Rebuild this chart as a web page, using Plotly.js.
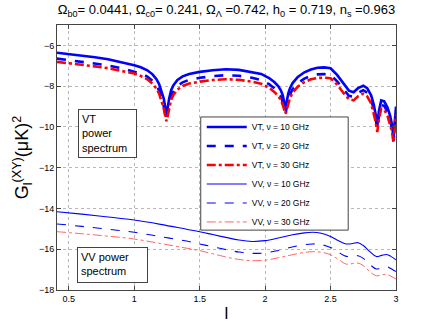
<!DOCTYPE html>
<html>
<head>
<meta charset="utf-8">
<script src="https://cdn.plot.ly/plotly-3.0.1.min.js"></script>
<style>
  html, body { margin: 0; padding: 0; background: #fff; }
  #chart { width: 438px; height: 327px; }
</style>
</head>
<body>
<div id="chart"></div>
<script>
// multipole axis (log10 l) for the VT spectra, denser around the dips
const lVT = [0.41, 0.5, 0.6, 0.7, 0.8, 0.9, 1.0, 1.05, 1.1, 1.14, 1.17, 1.19, 1.21, 1.225, 1.235, 1.242, 1.246,
    1.25, 1.257, 1.267, 1.282, 1.3, 1.33, 1.37, 1.42, 1.5, 1.6, 1.7, 1.8, 1.9, 1.97, 2.03, 2.07, 2.1, 2.12,
    2.135, 2.145, 2.152, 2.156, 2.16, 2.167, 2.177, 2.19, 2.21, 2.25, 2.3, 2.35, 2.4, 2.45, 2.5, 2.55, 2.6,
    2.64, 2.676, 2.71, 2.75, 2.78, 2.81, 2.83, 2.845, 2.853, 2.857, 2.861, 2.87, 2.887, 2.91, 2.935, 2.955,
    2.97, 2.977, 2.981, 2.985, 2.992, 3.0];

const vt10 = [-6.36, -6.42, -6.5, -6.58, -6.68, -6.82, -6.97, -7.07, -7.22, -7.42, -7.66, -7.9, -8.25, -8.6, -8.95, -9.3, -9.5,
    -9.3, -8.95, -8.6, -8.2, -7.95, -7.7, -7.52, -7.4, -7.3, -7.22, -7.17, -7.2, -7.3, -7.4, -7.6, -7.8, -8.0, -8.2,
    -8.45, -8.7, -8.95, -9.1, -8.95, -8.65, -8.35, -8.1, -7.85, -7.55, -7.32, -7.18, -7.1, -7.08, -7.12, -7.45, -7.9,
    -8.22, -8.3, -8.1, -7.98, -8.1, -8.45, -8.9, -9.4, -9.8, -10.0, -9.7, -9.2, -8.7, -8.75, -9.05, -9.45,
    -9.9, -10.3, -10.6, -10.2, -9.5, -9.0];

const vt20 = [-6.65, -6.72, -6.8, -6.88, -6.98, -7.12, -7.28, -7.38, -7.53, -7.74, -7.98, -8.22, -8.57, -8.92, -9.27, -9.55, -9.65,
    -9.55, -9.27, -8.92, -8.52, -8.26, -8.0, -7.81, -7.69, -7.59, -7.51, -7.46, -7.49, -7.59, -7.7, -7.9, -8.1, -8.3, -8.5,
    -8.75, -9.0, -9.2, -9.3, -9.2, -8.95, -8.65, -8.4, -8.15, -7.85, -7.63, -7.49, -7.42, -7.41, -7.44, -7.76, -8.18,
    -8.47, -8.52, -8.33, -8.2, -8.32, -8.67, -9.12, -9.6, -9.95, -10.1, -9.9, -9.42, -8.92, -8.97, -9.27, -9.67,
    -10.1, -10.5, -10.7, -10.4, -9.72, -9.22];

const vt30 = [-6.81, -6.87, -6.95, -7.03, -7.12, -7.25, -7.38, -7.5, -7.66, -7.88, -8.12, -8.37, -8.72, -9.07, -9.4, -9.62, -9.72,
    -9.62, -9.4, -9.07, -8.67, -8.42, -8.17, -7.99, -7.87, -7.78, -7.7, -7.66, -7.69, -7.78, -7.88, -8.08, -8.28, -8.48, -8.68,
    -8.93, -9.15, -9.3, -9.35, -9.3, -9.12, -8.82, -8.57, -8.32, -8.02, -7.8, -7.66, -7.6, -7.58, -7.61, -7.92, -8.35,
    -8.64, -8.7, -8.5, -8.37, -8.5, -8.85, -9.3, -9.75, -10.1, -10.25, -10.05, -9.6, -9.1, -9.15, -9.45, -9.85,
    -10.25, -10.6, -10.75, -10.5, -9.9, -9.4];

// multipole axis for the VV spectra
const lVV = [0.41, 0.6, 0.8, 1.0, 1.2, 1.4, 1.5, 1.6, 1.7, 1.8, 1.9, 2.0, 2.1, 2.2, 2.3, 2.36, 2.42, 2.5,
    2.56, 2.62, 2.67, 2.71, 2.75, 2.8, 2.85, 2.89, 2.93, 2.96, 3.0];

const vv10 = [-14.16, -14.28, -14.42, -14.57, -14.78, -15.02, -15.14, -15.28, -15.42, -15.55, -15.62, -15.58, -15.45,
    -15.3, -15.2, -15.17, -15.2, -15.37, -15.58, -15.74, -15.72, -15.68, -15.82, -16.12, -16.36, -16.3, -16.26,
    -16.35, -16.52];

const vv20 = [-14.76, -14.88, -15.02, -15.17, -15.38, -15.6, -15.74, -15.88, -16.02, -16.14, -16.2, -16.18, -16.06,
    -15.9, -15.78, -15.74, -15.76, -15.92, -16.15, -16.35, -16.34, -16.32, -16.45, -16.75, -16.97, -16.9, -16.86,
    -16.95, -17.1];

const vv30 = [-15.14, -15.24, -15.36, -15.5, -15.72, -15.95, -16.07, -16.22, -16.38, -16.5, -16.56, -16.54, -16.42,
    -16.28, -16.16, -16.12, -16.14, -16.27, -16.5, -16.73, -16.7, -16.68, -16.8, -17.1, -17.3, -17.26, -17.23,
    -17.32, -17.46];

const seriesNames = ['VT, ν = 10 GHz', 'VT, ν = 20 GHz', 'VT, ν = 30 GHz',
    'VV, ν = 10 GHz', 'VV, ν = 20 GHz', 'VV, ν = 30 GHz'];

const FONT = 'Liberation Sans, Arial, sans-serif';

function makeTrace(x, y, name, color, width, dash, shape) {
    return {
        x: x, y: y, name: name, type: 'scatter', mode: 'lines',
        line: { color: color, width: width, dash: dash, shape: shape }
    };
}

const traces = [
    makeTrace(lVT, vt10, seriesNames[0], '#0000ff', 2.6, 'solid', 'linear'),
    makeTrace(lVT, vt20, seriesNames[1], '#0000ff', 2.6, 'dash', 'linear'),
    makeTrace(lVT, vt30, seriesNames[2], '#ff0000', 2.6, 'dashdot', 'linear'),
    makeTrace(lVV, vv10, seriesNames[3], '#0000ff', 1.1, 'solid', 'spline'),
    makeTrace(lVV, vv20, seriesNames[4], '#0000ff', 1.1, 'dash', 'spline'),
    makeTrace(lVV, vv30, seriesNames[5], '#ff4040', 0.8, 'dashdot', 'spline')
];

const axisCommon = {
    showline: true, linecolor: '#444', linewidth: 1, mirror: 'ticks',
    ticks: 'inside', ticklen: 4, tickcolor: '#444',
    showgrid: true, gridcolor: '#b8b8b8', griddash: 'dot', gridwidth: 1,
    zeroline: false,
    tickfont: { family: FONT, size: 9, color: '#000' }
};

const layout = {
    width: 438, height: 327,
    margin: { l: 57, r: 42, t: 25, b: 37 },
    paper_bgcolor: '#fff', plot_bgcolor: '#fff',
    font: { family: FONT, color: '#000' },
    showlegend: true,
    title: {
        text: 'Ω<sub>b0</sub>= 0.0441, Ω<sub>c0</sub>= 0.241, Ω<sub>Λ</sub> =0.742, h<sub>0</sub> = 0.719, n<sub>s</sub> =0.963',
        font: { family: FONT, size: 13, color: '#000' },
        xref: 'paper', x: 0.5, xanchor: 'center',
        yref: 'container', y: 0.97, yanchor: 'middle'
    },
    xaxis: Object.assign({}, axisCommon, {
        range: [0.41, 3], dtick: 0.5, tick0: 0,
        title: { text: 'l', font: { family: FONT, size: 17 }, standoff: 4 }
    }),
    yaxis: Object.assign({}, axisCommon, {
        range: [-18, -5], dtick: 2, tick0: 0,
        title: { text: 'G<sub>l</sub><sup>(XY)</sup>(μK)<sup>2</sup>', font: { family: FONT, size: 18 }, standoff: 5 }
    }),
    legend: {
        x: 0.427, xanchor: 'left', y: 0.67, yanchor: 'top',
        bgcolor: 'rgba(0,0,0,0)', borderwidth: 0, itemwidth: 40,
        font: { family: FONT, size: 8.5, color: '#000' }
    },
    shapes: [
        // legend frame
        { type: 'rect', xref: 'paper', yref: 'paper', layer: 'above',
          x0: 0.424, x1: 0.859, y0: 0.226, y1: 0.653,
          line: { color: '#444', width: 1 }, fillcolor: '#fff' }
    ],
    annotations: [
        { text: 'VT<br>power<br>spectrum', xref: 'paper', yref: 'paper',
          x: 0.0628, y: 0.682, xanchor: 'left', yanchor: 'top',
          align: 'left', valign: 'top', showarrow: false,
          width: 51, height: 41, borderpad: 3,
          bordercolor: '#444', borderwidth: 1, bgcolor: '#fff',
          font: { family: FONT, size: 11, color: '#000' } },
        { text: 'VV power<br>spectrum', xref: 'paper', yref: 'paper',
          x: 0.0581, y: 0.163, xanchor: 'left', yanchor: 'top',
          align: 'left', valign: 'top', showarrow: false,
          width: 63, height: 28, borderpad: 3,
          bordercolor: '#444', borderwidth: 1, bgcolor: '#fff',
          font: { family: FONT, size: 11, color: '#000' } }
    ]
};

Plotly.newPlot('chart', traces, layout, { displayModeBar: false, staticPlot: true });
</script>
</body>
</html>
